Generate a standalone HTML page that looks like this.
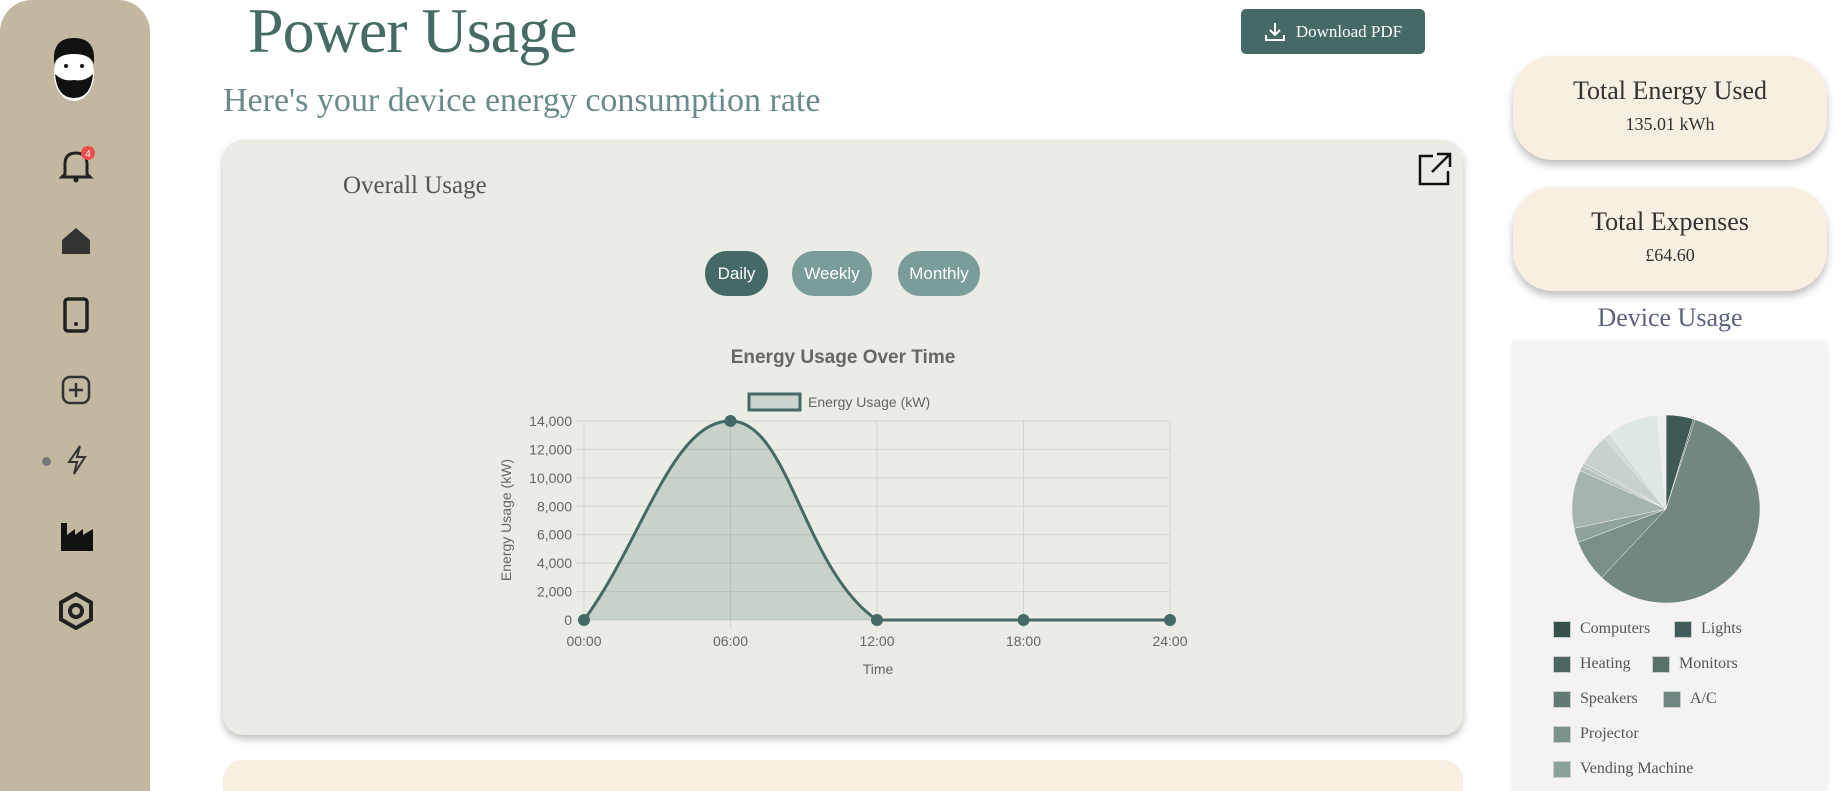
<!DOCTYPE html>
<html><head><meta charset="utf-8">
<style>
*{box-sizing:border-box;margin:0;padding:0}
html{width:1837px;height:791px;overflow:hidden}
body{width:1837px;height:791px;overflow:hidden;background:#fff;font-family:"Liberation Serif",serif;position:relative}
.abs{position:absolute}
.sidebar{left:0;top:0;width:150px;height:791px;background:#c1b89f;border-radius:32px 32px 0 0}
.card{background:#f7f0e2;border-radius:40px;box-shadow:0 5px 8px rgba(0,0,0,.25);text-align:center;color:#333}
.btn{border-radius:22px;color:#fff;font-family:"Liberation Sans",sans-serif;font-size:17px;display:flex;align-items:center;justify-content:center}
.lg{font-size:16px;color:#555;display:flex;align-items:center}
.lg i{display:inline-block;width:18px;height:17px;margin-right:9px;border:1px solid #ccc}
</style></head><body>
<div class="abs sidebar">
  <svg class="abs" style="left:45px;top:34px" width="58" height="68" viewBox="0 0 58 68">
    <ellipse cx="29" cy="40" rx="20" ry="27" fill="#fff"/>
    <path d="M9 22 Q10 4 29 4 Q48 4 49 22 L49 30 Q45 20 29 20 Q13 20 9 30Z" fill="#111"/>
    <path d="M10 40 Q12 64 29 64 Q46 64 48 40 Q40 48 29 46 Q18 48 10 40Z" fill="#111"/>
    <circle cx="21" cy="32" r="2" fill="#111"/><circle cx="37" cy="32" r="2" fill="#111"/>
  </svg>
  <svg class="abs" style="left:59px;top:146px" width="36" height="38" viewBox="0 0 36 38">
    <path d="M6 28 L6 18 Q6 7 17 7 Q28 7 28 18 L28 28 L31 31 L3 31Z" fill="none" stroke="#222" stroke-width="3"/>
    <circle cx="17" cy="34" r="2.5" fill="#222"/>
    <circle cx="29" cy="7" r="7" fill="#ef4b4b"/><text x="29" y="11" font-size="10" fill="#fff" text-anchor="middle" font-family="Liberation Sans">4</text>
  </svg>
  <svg class="abs" style="left:60px;top:226px" width="32" height="30" viewBox="0 0 32 30"><path d="M2 14 L16 2 L30 14 L30 28 L2 28Z" fill="#333"/></svg>
  <svg class="abs" style="left:62px;top:297px" width="28" height="36" viewBox="0 0 28 36"><rect x="3" y="2" width="22" height="32" rx="3" fill="none" stroke="#222" stroke-width="3.5"/><circle cx="14" cy="27" r="2" fill="#222"/></svg>
  <svg class="abs" style="left:61px;top:375px" width="30" height="30" viewBox="0 0 30 30"><rect x="2" y="2" width="26" height="26" rx="7" fill="none" stroke="#333" stroke-width="2.5"/><path d="M15 8V22M8 15H22" stroke="#333" stroke-width="2.5"/></svg>
  <div class="abs" style="left:42px;top:457px;width:9px;height:9px;border-radius:50%;background:#777"></div>
  <svg class="abs" style="left:66px;top:444px" width="22" height="32" viewBox="0 0 22 32"><path d="M14 2 L3 18 L11 18 L8 30 L19 13 L11 13Z" fill="none" stroke="#333" stroke-width="2"/></svg>
  <svg class="abs" style="left:59px;top:519px" width="36" height="34" viewBox="0 0 36 34"><path d="M2 32 L2 4 L8 4 L8 16 L16 10 L16 16 L24 10 L24 16 L34 10 L34 32Z" fill="#111"/></svg>
  <svg class="abs" style="left:58px;top:592px" width="36" height="38" viewBox="0 0 36 38"><path d="M18 2 L33 10.5 L33 27.5 L18 36 L3 27.5 L3 10.5Z" fill="none" stroke="#222" stroke-width="4"/><circle cx="18" cy="19" r="6" fill="none" stroke="#222" stroke-width="4"/></svg>
</div>

<div class="abs" style="left:248px;top:-6px;font-size:64px;color:#466b64;letter-spacing:-1px">Power Usage</div>
<div class="abs btn" style="left:1241px;top:9px;width:184px;height:45px;background:#456a66;border-radius:5px;font-family:'Liberation Serif',serif;font-size:17px">
  <svg width="22" height="22" viewBox="0 0 22 22" style="margin-right:10px"><path d="M11 2V14M6 9L11 14L16 9M2 14V19H20V14" fill="none" stroke="#fff" stroke-width="2"/></svg>Download PDF</div>
<div class="abs" style="left:223px;top:82px;font-size:34px;color:#6a8a89">Here's your device energy consumption rate</div>

<div class="abs" style="left:223px;top:140px;width:1240px;height:595px;background:#eaece5;border-radius:20px;box-shadow:0 4px 8px rgba(0,0,0,.25)"></div>
<div class="abs" style="left:343px;top:172px;font-size:25px;color:#555">Overall Usage</div>
<svg class="abs" style="left:1417px;top:151px" width="36" height="36" viewBox="0 0 36 36"><path d="M16 5H3V33H31V20M20 3H33V16M33 3L15 21" fill="none" stroke="#111" stroke-width="2.5"/></svg>
<div class="abs btn" style="left:705px;top:251px;width:63px;height:45px;background:#456a66">Daily</div>
<div class="abs btn" style="left:792px;top:251px;width:80px;height:45px;background:#7b9d99">Weekly</div>
<div class="abs btn" style="left:898px;top:251px;width:82px;height:45px;background:#7b9d99">Monthly</div>

<svg id="chart" class="abs" style="left:0;top:0" width="1837" height="791"></svg>

<div class="abs" style="left:223px;top:760px;width:1240px;height:31px;background:#f7f0e2;border-radius:20px 20px 0 0"></div>

<div class="abs card" style="left:1513px;top:56px;width:314px;height:104px">
  <div style="font-size:26px;margin-top:20px">Total Energy Used</div><div style="font-size:18px;margin-top:8px">135.01 kWh</div></div>
<div class="abs card" style="left:1513px;top:187px;width:314px;height:104px">
  <div style="font-size:26px;margin-top:20px">Total Expenses</div><div style="font-size:18px;margin-top:8px">£64.60</div></div>
<div class="abs" style="left:1513px;top:303px;width:314px;text-align:center;font-size:26px;color:#5e6080">Device Usage</div>
<div class="abs" style="left:1512px;top:342px;width:315px;height:449px;background:#f4f2f2;box-shadow:0 0 4px rgba(0,0,0,.1)"></div>
<svg id="pie" class="abs" style="left:0;top:0" width="1837" height="791"></svg>
<div class="abs lg" style="left:1553px;top:620px"><i style="background:#354f4b"></i>Computers</div>
<div class="abs lg" style="left:1674px;top:620px"><i style="background:#415b58"></i>Lights</div>
<div class="abs lg" style="left:1553px;top:655px"><i style="background:#4b6662"></i>Heating</div>
<div class="abs lg" style="left:1652px;top:655px"><i style="background:#587069"></i>Monitors</div>
<div class="abs lg" style="left:1553px;top:690px"><i style="background:#627a75"></i>Speakers</div>
<div class="abs lg" style="left:1663px;top:690px"><i style="background:#6f8782"></i>A/C</div>
<div class="abs lg" style="left:1553px;top:725px"><i style="background:#7b918c"></i>Projector</div>
<div class="abs lg" style="left:1553px;top:760px"><i style="background:#89a09b"></i>Vending Machine</div>

<script>
const timeLabels = ["00:00","06:00","12:00","18:00","24:00"];
const usageValues = [0,14000,0,0,0];
const yTicks = [0,2000,4000,6000,8000,10000,12000,14000];
const deviceLabels = ["Computers","Lights","Heating","Monitors","Speakers","A/C","Projector","Vending Machine","Printers","Fridge","Kettle","Microwave"];
const deviceValues = [4.7,0.3,57,7.2,2.5,10,0.8,0.6,5.5,1.1,8.8,1.5];

const NS="http://www.w3.org/2000/svg";
function mk(parent,tag,attrs,text){const e=document.createElementNS(NS,tag);for(const k in attrs)e.setAttribute(k,attrs[k]);if(text!==undefined)e.textContent=text;parent.appendChild(e);return e;}
const svg=document.getElementById('chart');
const X0=584,X1=1170,Y0=620,Y1=421,YMAX=14000;
const xs=i=>X0+(X1-X0)*i/(timeLabels.length-1);
const ys=v=>Y0-(Y0-Y1)*v/YMAX;
const F='"Liberation Sans",sans-serif';
let t=mk(svg,'text',{x:843,y:363,'text-anchor':'middle','font-family':F,'font-size':19,'font-weight':'bold',fill:'#666'},'Energy Usage Over Time');

let lb=mk(svg,'rect',{x:749,y:394,width:51,height:16,fill:'#c9d4ce',stroke:'#456a66','stroke-width':3});

t=mk(svg,'text',{x:808,y:407,'font-family':F,'font-size':14,fill:'#666'},'Energy Usage (kW)');

yTicks.forEach(v=>{const g=mk(svg,'line',{x1:X0-8,x2:X1,y1:ys(v),y2:ys(v),stroke:'#d2d4cf','stroke-width':1});

const l=mk(svg,'text',{x:X0-12,y:ys(v)+5,'text-anchor':'end','font-family':F,'font-size':14,fill:'#666'},v.toLocaleString('en-US'));
});
timeLabels.forEach((s,i)=>{const g=mk(svg,'line',{x1:xs(i),x2:xs(i),y1:Y1,y2:Y0+8,stroke:'#d2d4cf','stroke-width':1});

const l=mk(svg,'text',{x:xs(i),y:646,'text-anchor':'middle','font-family':F,'font-size':14,fill:'#666'},s);
});
t=mk(svg,'text',{x:878,y:674,'text-anchor':'middle','font-family':F,'font-size':14,fill:'#666'},'Time');

t=mk(svg,'text',{x:0,y:0,transform:'translate(511,520) rotate(-90)','text-anchor':'middle','font-family':F,'font-size':14,fill:'#666'},'Energy Usage (kW)');

const pts=usageValues.map((v,i)=>({x:xs(i),y:ys(v)}));
const ten=0.4,cps=[];
pts.forEach((p,i)=>{const pr=pts[i-1]||p,nx=pts[i+1]||p;
const d01=Math.hypot(p.x-pr.x,p.y-pr.y),d12=Math.hypot(nx.x-p.x,nx.y-p.y);
let fa=d01/(d01+d12)||0,fb=d12/(d01+d12)||0;fa*=ten;fb*=ten;
const cl=y=>Math.min(Y0,Math.max(Y1,y));
cps.push({px:p.x-fa*(nx.x-pr.x),py:cl(p.y-fa*(nx.y-pr.y)),nx:p.x+fb*(nx.x-pr.x),ny:cl(p.y+fb*(nx.y-pr.y))});});
let d=`M${pts[0].x},${pts[0].y}`;
for(let i=1;i<pts.length;i++)d+=` C${cps[i-1].nx},${cps[i-1].ny} ${cps[i].px},${cps[i].py} ${pts[i].x},${pts[i].y}`;
const area=mk(svg,'path',{d:d+` L${X1},${Y0} L${X0},${Y0}Z`,fill:'rgba(69,106,102,0.2)'});

const line=mk(svg,'path',{d:d,fill:'none',stroke:'#456a66','stroke-width':3});

pts.forEach(p=>{const c=mk(svg,'circle',{cx:p.x,cy:p.y,r:6,fill:'#456a66'});
});

const pie=document.getElementById('pie');
const sliceColors=["#3f5954","#5a716c","#72877f","#7a8f8a","#8fa29e","#a5b3b1","#b3c0be","#bcc8c6","#c7d2d0","#d2dbda","#dfe7e6","#ebf0ef"];
const CX=1666,CY=509,R=94;
const total=deviceValues.reduce((a,b)=>a+b,0);
let a0=-Math.PI/2;
deviceValues.forEach((v,i)=>{const a1=a0+v/total*2*Math.PI;
const p=mk(pie,'path',{d:`M${CX},${CY} L${CX+R*Math.cos(a0)},${CY+R*Math.sin(a0)} A${R},${R} 0 ${a1-a0>Math.PI?1:0} 1 ${CX+R*Math.cos(a1)},${CY+R*Math.sin(a1)}Z`,fill:sliceColors[i],stroke:'#f4f2f2','stroke-width':0.5});

a0=a1;});
</script>
</body></html>
